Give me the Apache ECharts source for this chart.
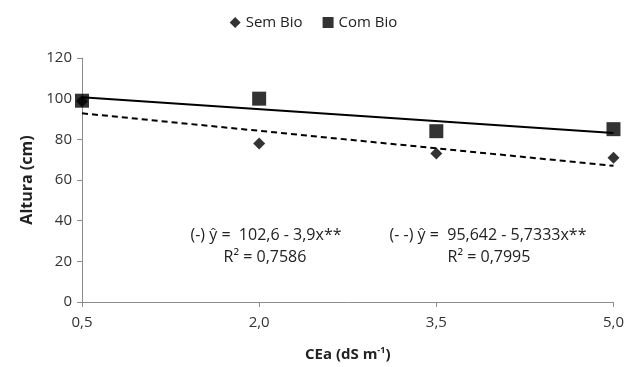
<!DOCTYPE html>
<html><head><meta charset="utf-8">
<script src="https://cdn.jsdelivr.net/npm/echarts@6/dist/echarts.min.js"></script>
<style>html,body{margin:0;padding:0;background:#fff}#c{width:627px;height:367px}</style>
</head><body><div id="c"></div>
<script>
const categories = ['0,5', '2,0', '3,5', '5,0'];
const semBio = [98.7, 78, 73, 71];
const comBio = [99, 100, 84, 85];
const trendCom = [100.65, null, null, 83.1];
const trendSem = [92.8, null, null, 66.97];
const yTicks = [0, 20, 40, 60, 80, 100, 120];
const eqCom = ['(-) ŷ =  102,6 - 3,9x**', 'R² = 0,7586'];
const eqSem = ['(- -) ŷ =  95,642 - 5,7333x**', 'R² = 0,7995'];

const FONT = '"Open Sans", "Liberation Sans", sans-serif';
const chart = echarts.init(document.getElementById('c'));
chart.setOption({
  animation: false,
  backgroundColor: '#fff',
  textStyle: {fontFamily: FONT},
  grid: {left: 82, right: 11, top: 58, bottom: 62, containLabel: false},
  legend: {
    top: 10, left: 'center', itemGap: 20, itemWidth: 11, itemHeight: 11,
    textStyle: {fontSize: 15, color: '#222', fontFamily: FONT},
    data: [{name: 'Sem Bio', icon: 'diamond'}, {name: 'Com Bio', icon: 'rect'}]
  },
  xAxis: {
    type: 'category', data: categories, boundaryGap: false,
    name: 'CEa (dS m{sup|-1})', nameLocation: 'middle', nameGap: 44,
    nameTextStyle: {fontSize: 15, fontWeight: 'bold', color: '#222', fontFamily: FONT,
      rich: {sup: {fontSize: 9, fontWeight: 'bold', verticalAlign: 'top', padding: [0,0,8,0]}}},
    axisLine: {lineStyle: {color: '#8c8c8c'}},
    axisTick: {show: true, length: 5, lineStyle: {color: '#8c8c8c'}},
    axisLabel: {fontSize: 15, color: '#333', margin: 13, fontFamily: FONT},
    splitLine: {show: false}
  },
  yAxis: {
    type: 'value', min: yTicks[0], max: yTicks[yTicks.length-1], interval: 20,
    name: 'Altura (cm)', nameLocation: 'middle', nameGap: 44, nameRotate: 90,
    nameTextStyle: {fontSize: 16, fontWeight: 'bold', color: '#222', fontFamily: FONT},
    axisLine: {show: true, lineStyle: {color: '#8c8c8c'}},
    axisTick: {show: true, length: 5, lineStyle: {color: '#8c8c8c'}},
    axisLabel: {fontSize: 15, color: '#333', margin: 10, fontFamily: FONT},
    splitLine: {show: false}
  },
  series: [
    {name: 'trendSem', type: 'line', data: trendSem, connectNulls: true, symbol: 'none',
     lineStyle: {color: '#000', width: 2, type: [6, 4]}, z: 2, silent: true},
    {name: 'trendCom', type: 'line', data: trendCom, connectNulls: true, symbol: 'none',
     lineStyle: {color: '#000', width: 2}, z: 2, silent: true},
    {name: 'Sem Bio', type: 'scatter', data: semBio, symbol: 'diamond', symbolSize: 12,
     itemStyle: {color: '#000'}, z: 3},
    {name: 'Com Bio', type: 'scatter', data: comBio, symbol: 'rect', symbolSize: 14,
     itemStyle: {color: '#000'}, z: 4}
  ],
  graphic: [
    {type: 'text', x: 266, y: 235, style: {text: eqCom[0], fontSize: 16, fill: '#222', fontFamily: FONT, align: 'center', verticalAlign: 'middle'}},
    {type: 'text', x: 265, y: 257, style: {text: eqCom[1], fontSize: 16, fill: '#222', fontFamily: FONT, align: 'center', verticalAlign: 'middle'}},
    {type: 'text', x: 488, y: 235, style: {text: eqSem[0], fontSize: 16, fill: '#222', fontFamily: FONT, align: 'center', verticalAlign: 'middle'}},
    {type: 'text', x: 489, y: 257, style: {text: eqSem[1], fontSize: 16, fill: '#222', fontFamily: FONT, align: 'center', verticalAlign: 'middle'}}
  ]
});
</script></body></html>
